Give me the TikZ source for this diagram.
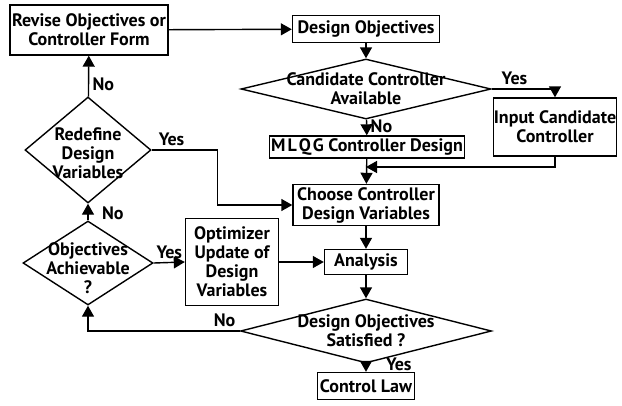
\documentclass[tikz,border=0pt]{standalone}
\usepackage{fontspec}
\setmainfont{PT Sans}
\usetikzlibrary{shapes, arrows.meta}

\begin{document}
\begin{tikzpicture}[x=1pt, y=-1pt, line width=1.4pt,
    font=\fontsize{18}{19}\selectfont\bfseries,
    >={Triangle[width=12pt,length=11pt]},
    block/.style={draw, rectangle, align=center, inner sep=0pt},
    dia/.style={draw, diamond, inner sep=0pt},
    dtext/.style={align=center, inner sep=0pt}]
        \useasboundingbox (0,0) rectangle (622,405);

        % Draw the blocks
        \node (revise)   [block, minimum width=158pt, minimum height=50pt] at (89,30) {Revise Objectives or\\Controller Form};
        \node (desobj)   [block, minimum width=147pt, minimum height=27pt] at (366,29) {Design Objectives};
        \node (input)    [block, minimum width=123pt, minimum height=58pt] at (555,127) {Input Candidate\\Controller};
        \node (mlqg)     [block, minimum width=195pt, minimum height=22pt] at (367,147) {M\kern2pt L\kern2pt Q\kern2pt G Controller Design};
        \node (choose)   [block, minimum width=146pt, minimum height=41pt] at (366,205) {Choose Controller\\Design Variables};
        \node (opt)      [block, minimum width=93pt, minimum height=87pt] at (232,262) {Optimizer\\Update of\\Design\\Variables};
        \node (analysis) [block, minimum width=83pt, minimum height=25pt] at (366,262) {Analysis};
        \node (control)  [block, minimum width=97pt, minimum height=27pt] at (366,386) {Control Law};

        % Draw the decisions
        \node (cand)  [dia, minimum width=250pt, minimum height=60pt, label={[dtext]center:Candidate Controller\\Available}] at (366,89) {};
        \node (redef) [dia, minimum width=126pt, minimum height=106pt, label={[dtext, yshift=-3pt]center:Redefine\\Design\\Variables}] at (88,150) {};
        \node (obj)   [dia, minimum width=130pt, minimum height=84pt, label={[dtext, yshift=-5pt]center:Objectives\\Achievable\\?}] at (88,263) {};
        \node (sat)   [dia, minimum width=251pt, minimum height=64pt, label={[dtext]center:Design Objectives\\Satisfied ?}] at (366,331) {};

        \coordinate (join) at (366,167);

        % Draw the connecting lines
        \draw [->] (revise) -- (desobj);
        \draw [->] (desobj) -- (cand);
        \draw [->] (cand.east) -| node [above, pos=0.18] {Yes} (input.north);
        \draw [->] (cand) -- node [right, pos=0.45] {No} (mlqg);
        \draw [->] (input.south) |- (join);
        \draw [->] (mlqg) -- (choose);
        \draw [->] (choose) -- (analysis);
        \draw [->] (analysis) -- (sat);
        \draw [->] (sat) -- node [right=16pt, pos=0.1] {Yes} (control);
        \draw [->] (sat.west) -| node [above, pos=0.05] {No} (obj.south);
        \draw [->] (obj.east) -- node [above] {Yes} (opt.west);
        \draw [->] (opt) -- (analysis);
        \draw [->] (obj) -- node [right=10pt, pos=0.4] {No} (redef);
        \draw [->] (redef) -- node [right, pos=0.3] {No} (revise);
        \draw [->] (redef.east) -- node [above, pos=0.3] {Yes} ++(66,0) |- (choose.west);
\end{tikzpicture}
\end{document}
